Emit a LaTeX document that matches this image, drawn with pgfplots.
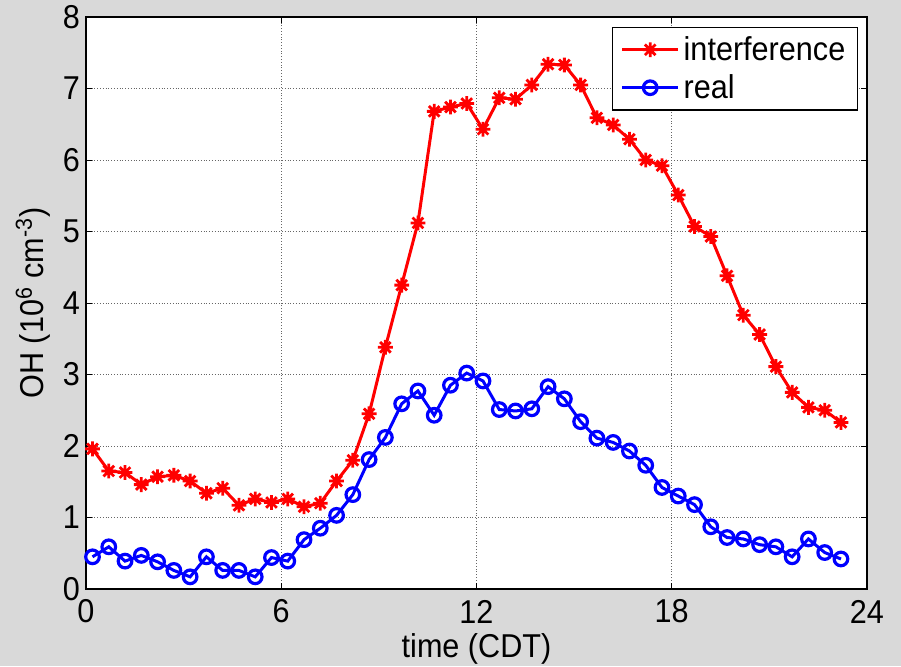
\documentclass[border=0pt]{standalone}
\usepackage{fontspec}
\setmainfont{Liberation Sans}
\usepackage{pgfplots}
\usepackage{pgfplotstable}
\pgfplotsset{compat=1.18}

\definecolor{figbg}{RGB}{217,217,217}
\definecolor{mred}{RGB}{255,0,0}
\definecolor{mblue}{RGB}{0,0,255}

% eight-armed star marker (plus overlaid with a cross)
\pgfdeclareplotmark{mstar}{%
  \pgfpathmoveto{\pgfqpoint{-\pgfplotmarksize}{0pt}}%
  \pgfpathlineto{\pgfqpoint{\pgfplotmarksize}{0pt}}%
  \pgfpathmoveto{\pgfqpoint{0pt}{-\pgfplotmarksize}}%
  \pgfpathlineto{\pgfqpoint{0pt}{\pgfplotmarksize}}%
  \pgfpathmoveto{\pgfqpoint{-0.72\pgfplotmarksize}{-0.72\pgfplotmarksize}}%
  \pgfpathlineto{\pgfqpoint{0.72\pgfplotmarksize}{0.72\pgfplotmarksize}}%
  \pgfpathmoveto{\pgfqpoint{-0.72\pgfplotmarksize}{0.72\pgfplotmarksize}}%
  \pgfpathlineto{\pgfqpoint{0.72\pgfplotmarksize}{-0.72\pgfplotmarksize}}%
  \pgfusepathqstroke}

\pgfplotstableread{
t oh
0.2 1.96
0.7 1.65
1.2 1.63
1.7 1.46
2.2 1.57
2.7 1.59
3.2 1.51
3.7 1.34
4.2 1.41
4.7 1.17
5.2 1.26
5.7 1.21
6.2 1.26
6.7 1.15
7.2 1.20
7.7 1.51
8.2 1.80
8.7 2.45
9.2 3.38
9.7 4.25
10.2 5.12
10.7 6.68
11.2 6.74
11.7 6.79
12.2 6.43
12.7 6.87
13.2 6.85
13.7 7.05
14.2 7.34
14.7 7.33
15.2 7.05
15.7 6.59
16.2 6.49
16.7 6.29
17.2 6.00
17.7 5.92
18.2 5.51
18.7 5.07
19.2 4.93
19.7 4.38
20.2 3.83
20.7 3.56
21.2 3.11
21.7 2.75
22.2 2.54
22.7 2.50
23.2 2.33
}\interf

\pgfplotstableread{
t oh
0.2 0.45
0.7 0.59
1.2 0.39
1.7 0.47
2.2 0.38
2.7 0.26
3.2 0.17
3.7 0.45
4.2 0.26
4.7 0.26
5.2 0.17
5.7 0.44
6.2 0.39
6.7 0.69
7.2 0.85
7.7 1.03
8.2 1.32
8.7 1.81
9.2 2.12
9.7 2.59
10.2 2.77
10.7 2.43
11.2 2.85
11.7 3.02
12.2 2.91
12.7 2.51
13.2 2.49
13.7 2.52
14.2 2.83
14.7 2.66
15.2 2.34
15.7 2.11
16.2 2.05
16.7 1.93
17.2 1.73
17.7 1.42
18.2 1.30
18.7 1.18
19.2 0.87
19.7 0.72
20.2 0.70
20.7 0.62
21.2 0.59
21.7 0.45
22.2 0.70
22.7 0.51
23.2 0.42
}\real

\newcommand{\lab}[1]{\scalebox{1}[1.08]{#1}}
\newcommand{\chartfont}{\fontsize{15.3}{15.3}\selectfont}

\begin{document}
\begin{tikzpicture}
\path[use as bounding box, fill=figbg] (-43pt,-38.5pt) rectangle (407.5pt,294.5pt);
\begin{axis}[
  at={(0,0)}, anchor=south west,
  width=390.5pt, height=286pt, scale only axis,
  xmin=0, xmax=24, ymin=0, ymax=8,
  xtick={0,6,12,18,24}, ytick={0,1,2,3,4,5,6,7,8},
  axis background/.style={fill=white},
  grid=major,
  major grid style={densely dotted, black!60, line width=0.5pt},
  tick align=inside, major tick length=3pt,
  tick style={black, line width=0.5pt},
  axis line style={black, line width=0.9pt},
  /pgf/number format/assume math mode=true,
  ticklabel style={font=\chartfont},
  xticklabel style={anchor=center, yshift=-11.3pt, yscale=1.08},
  yticklabel style={anchor=center, xshift=-7.3pt, yscale=1.08},
  xlabel={time (CDT)},
  ylabel={OH (10\textsuperscript{6} cm\textsuperscript{-3})},
  label style={font=\chartfont},
  xlabel style={at={(axis description cs:0.5,-0.104)}, anchor=center, yscale=1.08},
  ylabel style={at={(axis description cs:-0.068,0.5)}, anchor=center, yscale=1.08},
  legend style={at={(1,1)}, anchor=north east, xshift=-4.5pt, yshift=-4.8pt,
    draw=black, line width=0.7pt, fill=white,
    font=\chartfont,
    inner xsep=4pt, inner ysep=2.5pt, row sep=1.5pt,
    cells={anchor=west}},
  legend image code/.code={%
    \draw[mark repeat=2, mark phase=2] plot coordinates {(0pt,0pt) (14pt,0pt) (28pt,0pt)};},
]
\addplot[mred, line width=1.5pt, mark=mstar, mark size=3.7pt,
  mark options={line width=1.4pt}] table[x=t, y=oh] {\interf};
\addlegendentry{\lab{interference}}
\addplot[mblue, line width=1.5pt, mark=o, mark size=3.4pt,
  mark options={line width=1.6pt, fill=none}] table[x=t, y=oh] {\real};
\addlegendentry{\lab{real}}
\end{axis}
\end{tikzpicture}
\end{document}
